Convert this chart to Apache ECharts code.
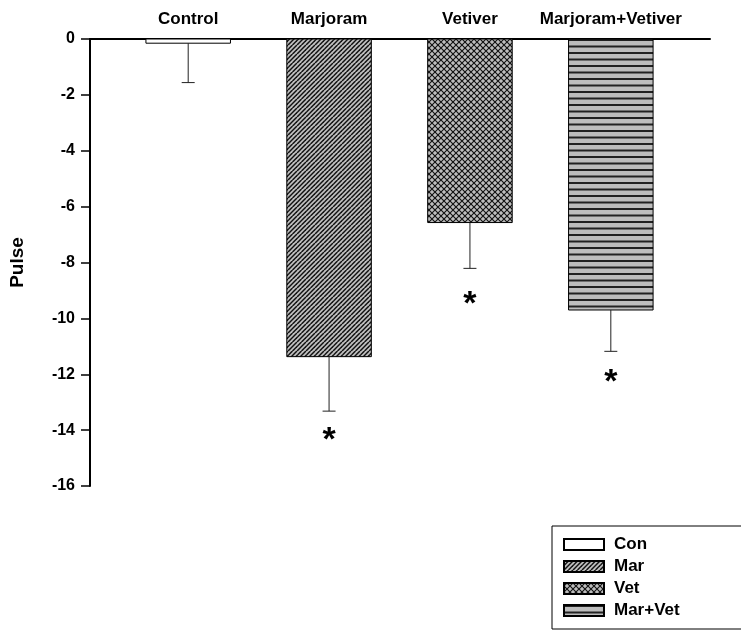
<!DOCTYPE html>
<html>
<head>
<meta charset="utf-8">
<script src="https://cdn.jsdelivr.net/npm/echarts@6/dist/echarts.min.js"></script>
<style>
html, body { margin: 0; background: #fff; }
#chart { width: 741px; height: 630px; }
</style>
</head>
<body>
<div id="chart"></div>
<script>
// data
var categories = ['Control', 'Marjoram', 'Vetiver', 'Marjoram+Vetiver'];
var legendNames = ['Con', 'Mar', 'Vet', 'Mar+Vet'];
var means = [-0.15, -11.37, -6.57, -9.70];
var errors = [1.41, 1.95, 1.64, 1.48];
var marks = ['', '*', '*', '*'];
var markValues = [null, -14.14, -9.25, -12.04];
var yMin = -16, yMax = 0, yStep = 2;

var font = '"Liberation Sans", Arial, sans-serif';

function makeTile (w, h, draw) {
  var c = document.createElement('canvas')
  c.width = w
  c.height = h
  draw(c.getContext('2d'), w, h)
  return { image: c, repeat: 'repeat' }
}

var fills = [
  '#ffffff',
  makeTile(9, 9, function (g, w, h) {
    g.fillStyle = '#bfbfbf'
    g.fillRect(0, 0, w, h)
    g.strokeStyle = '#111'
    g.lineWidth = 1.5
    for (var k = -2; k <= 2; k++) {
      g.beginPath()
      g.moveTo(k * 4.5, h)
      g.lineTo(k * 4.5 + w, 0)
      g.stroke()
    }
  }),
  makeTile(6, 6, function (g, w, h) {
    g.fillStyle = '#111'
    g.fillRect(0, 0, w, h)
    g.fillStyle = '#bdbdbd'
    var pts = [[0, 0], [6, 0], [0, 6], [6, 6], [3, 3]]
    pts.forEach(function (p) {
      g.beginPath()
      g.moveTo(p[0], p[1] - 2.2)
      g.lineTo(p[0] + 2.2, p[1])
      g.lineTo(p[0], p[1] + 2.2)
      g.lineTo(p[0] - 2.2, p[1])
      g.closePath()
      g.fill()
    })
  }),
  makeTile(4, 13, function (g, w, h) {
    g.fillStyle = '#bdbdbd'
    g.fillRect(0, 0, w, h)
    g.fillStyle = '#222'
    g.fillRect(0, 0, w, 2)
    g.fillRect(0, 6.5, w, 2)
  })
]

function renderBar (params, api) {
  var x = api.value(0)
  var v = api.value(1)
  var e = api.value(2)
  var m = api.value(3)
  var i = params.seriesIndex
  var top = api.coord([x, 0])
  var bot = api.coord([x, v])
  var end = api.coord([x, v - e])
  var w = api.size([1, 0])[0] * 0.6
  var children = [
    {
      type: 'rect',
      shape: { x: top[0] - w / 2, y: top[1], width: w, height: bot[1] - top[1] },
      style: { fill: fills[i], stroke: '#000', lineWidth: 1 }
    },
    {
      type: 'line',
      shape: { x1: bot[0], y1: bot[1], x2: end[0], y2: end[1] },
      style: { stroke: '#222', lineWidth: 1 }
    },
    {
      type: 'line',
      shape: { x1: end[0] - 6.5, y1: end[1], x2: end[0] + 6.5, y2: end[1] },
      style: { stroke: '#222', lineWidth: 1 }
    },
    {
      type: 'text',
      style: {
        x: top[0], y: top[1] - 20, text: categories[i],
        align: 'center', verticalAlign: 'middle',
        font: 'bold 17px ' + font, fill: '#000'
      }
    }
  ]
  if (!isNaN(m) && marks[i]) {
    var mp = api.coord([x, m])
    children.push({
      type: 'text',
      style: {
        x: mp[0], y: mp[1] + 7, text: marks[i],
        align: 'center', verticalAlign: 'middle',
        font: 'bold 34px ' + font, fill: '#000'
      }
    })
  }
  return { type: 'group', children: children }
}

var series = categories.map(function (c, i) {
  return {
    name: legendNames[i],
    type: 'custom',
    renderItem: renderBar,
    itemStyle: { color: fills[i], borderColor: '#000', borderWidth: 1 },
    data: [[i, means[i], errors[i], markValues[i] == null ? NaN : markValues[i]]]
  }
})

var chart = echarts.init(document.getElementById('chart'))
chart.setOption({
  animation: false,
  backgroundColor: '#fff',
  grid: { left: 88, right: 31, top: 39, bottom: 144 },
  legend: {
    orient: 'vertical',
    left: 552,
    top: 526,
    data: legendNames,
    icon: 'rect',
    itemWidth: 40,
    itemHeight: 11,
    itemGap: 5,
    padding: [10, 62, 10, 11],
    borderColor: '#000',
    borderWidth: 1,
    borderRadius: 0,
    selectedMode: false,
    textStyle: { fontFamily: font, fontWeight: 'bold', fontSize: 17, color: '#000', padding: [0, 0, 0, 5] }
  },
  xAxis: {
    type: 'value',
    position: 'top',
    min: -0.697,
    max: 3.704,
    axisLine: { show: true, onZero: false, lineStyle: { color: '#000', width: 2 } },
    axisTick: { show: false },
    axisLabel: { show: false },
    splitLine: { show: false }
  },
  yAxis: {
    type: 'value',
    min: yMin,
    max: yMax,
    interval: yStep,
    name: 'Pulse',
    nameLocation: 'middle',
    nameGap: 63,
    nameTextStyle: { fontFamily: font, fontWeight: 'bold', fontSize: 19, color: '#000' },
    axisLine: { show: true, onZero: false, lineStyle: { color: '#000', width: 2 } },
    axisTick: { show: true, length: 9, lineStyle: { color: '#000', width: 1.5 } },
    axisLabel: { fontFamily: font, fontWeight: 'bold', fontSize: 16, color: '#000', margin: 15 },
    splitLine: { show: false }
  },
  series: series
})
</script>
</body>
</html>
